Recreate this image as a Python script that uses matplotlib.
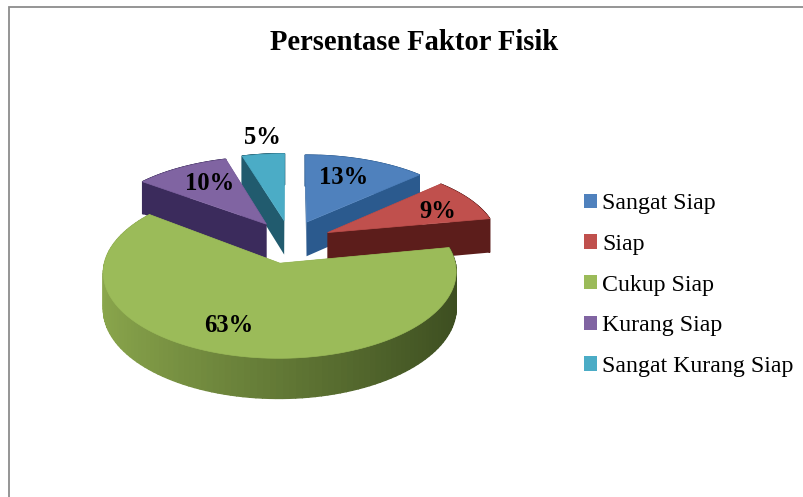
import numpy as np
import matplotlib
matplotlib.use("Agg")
import matplotlib.pyplot as plt
from matplotlib.patches import Polygon, Patch
from matplotlib.colors import to_rgb

plt.rcParams['font.family'] = ['Liberation Serif', 'DejaVu Serif']

title = "Persentase Faktor Fisik"
categories = ["Sangat Siap", "Siap", "Cukup Siap", "Kurang Siap", "Sangat Kurang Siap"]
# slice sizes, they round to the printed labels
values = [13, 9, 63.4, 10.1, 4.5]
labels = ["13%", "9%", "63%", "10%", "5%"]
colors = ["#4f81bd", "#c0504d", "#9bbb59", "#8064a2", "#4bacc6"]
wall_colors = ["#2b5a8e", "#5c1d1b", "#7f9b46", "#3b2b5c", "#215b6e"]
label_pos = [(344, 177), (438, 212), (229, 325), (210, 184), (262, 138)]

# projection of the pie plane onto the picture (pixels)
X0, Y0 = 290, 243
A, B = 171, 77.7
PERSP = 0.0995
DEPTH = 35


def project(u, v, drop=0.0):
    s = 1.0 / (1.0 + PERSP * v)
    return X0 + A * u * s, Y0 - B * v * s + drop * s


def draw_slice(ax, a0, a1, color, wall, big):
    # angles clockwise from the top, in degrees
    ex, ey, ry = (0.25, 0.26, 1.04) if big else (0.25, 0.30, 1.0)
    mid = np.radians((a0 + a1) / 2)
    ou, ov = ex * np.sin(mid), ey * np.cos(mid)
    t = np.radians(np.linspace(a0, a1, 120))
    u, v = ou + np.sin(t), ov + ry * np.cos(t)

    # radial walls first
    for ue, ve in [(u[0], v[0]), (u[-1], v[-1])]:
        quad = [project(ou, ov), project(ue, ve), project(ue, ve, DEPTH), project(ou, ov, DEPTH)]
        ax.add_patch(Polygon(quad, closed=True, fc=wall if not big else "#5f7a30", ec="none"))

    # outer wall, darker toward the right on the big slice
    for i in range(len(u) - 1):
        quad = [project(u[i], v[i]), project(u[i + 1], v[i + 1]),
                project(u[i + 1], v[i + 1], DEPTH), project(u[i], v[i], DEPTH)]
        fc = wall
        if big:
            k = (u[i] - ou + 1) / 2
            fc = tuple(np.array(to_rgb("#8aa64c")) * (1 - k) + np.array(to_rgb("#3c4d20")) * k)
        ax.add_patch(Polygon(quad, closed=True, fc=fc, ec=fc, lw=1.0))

    # top face
    top = [project(ou, ov)] + [project(a, b) for a, b in zip(u, v)]
    ax.add_patch(Polygon(top, closed=True, fc=color, ec=color, lw=0.5))


fig = plt.figure(figsize=(8.04, 4.97), dpi=100)
ax = fig.add_axes([0, 0, 1, 1])
ax.set_xlim(0, 804)
ax.set_ylim(497, 0)
ax.axis('off')

# chart frame: only top and left are inside the crop
ax.plot([8.7, 8.7, 804], [497, 7, 7], color="#8c8c8c", lw=1.3, solid_joinstyle='miter')

edges = np.concatenate([[0], np.cumsum(values)]) * 3.6
slices = [(edges[i], edges[i + 1], i) for i in range(len(values))]
# back to front
slices.sort(key=lambda s: -np.cos(np.radians((s[0] + s[1]) / 2)))
for a0, a1, i in slices:
    draw_slice(ax, a0, a1, colors[i], wall_colors[i], categories[i] == "Cukup Siap")

for lab, (x, y) in zip(labels, label_pos):
    ax.text(x, y, lab, ha='center', va='center', fontsize=17.7, fontweight='bold', color='black')

ax.text(414, 42, title, ha='center', va='center', fontsize=20.6, fontweight='bold', color='black')

handles = [Patch(fc=c, ec="none") for c in colors]
ax.legend(handles, categories, loc='upper left', bbox_to_anchor=(584 / 804, 1 - 193.5 / 497),
          frameon=False, fontsize=17.2, handlelength=0.55, handleheight=0.55,
          handletextpad=0.2, labelspacing=0.82, borderpad=0, borderaxespad=0)

fig.savefig("out.png", dpi=100)
